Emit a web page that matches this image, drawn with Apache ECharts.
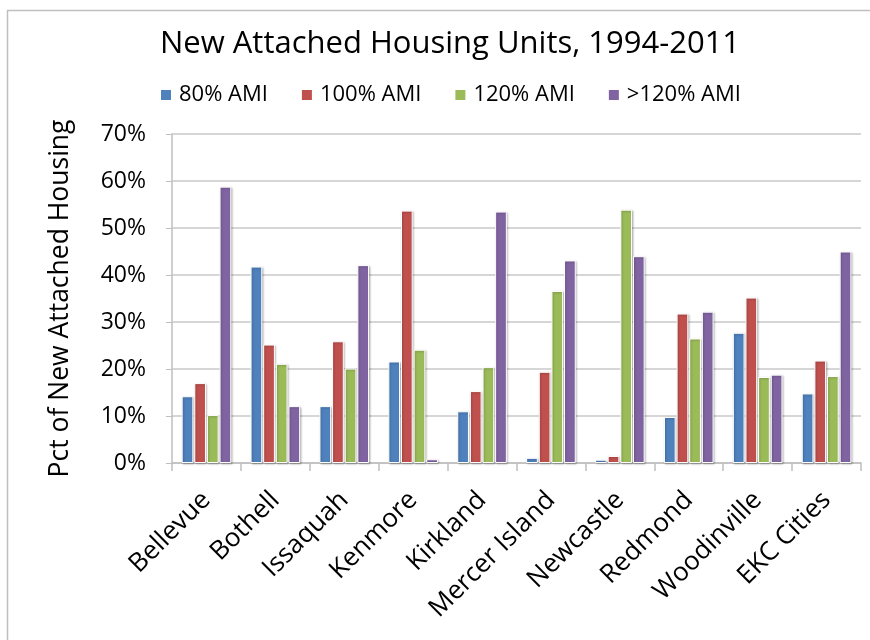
<!DOCTYPE html>
<html>
<head>
<meta charset="utf-8">
<script src="https://cdn.jsdelivr.net/npm/echarts@6/dist/echarts.min.js"></script>
<style>
  html, body { margin: 0; padding: 0; background: #fff; }
  #chart { width: 870px; height: 640px; }
</style>
</head>
<body>
<div id="chart"></div>
<script>
// data (percent of new attached housing)
const cities = ["Bellevue", "Bothell", "Issaquah", "Kenmore", "Kirkland",
  "Mercer Island", "Newcastle", "Redmond", "Woodinville", "EKC Cities"];
const seriesNames = ["80% AMI", "100% AMI", "120% AMI", ">120% AMI"];
const ami80 = [14.2, 41.8, 12.1, 21.6, 11.0, 1.1, 0.7, 9.8, 27.7, 14.8];
const ami100 = [17.0, 25.2, 25.9, 53.7, 15.3, 19.4, 1.5, 31.8, 35.2, 21.8];
const ami120 = [10.2, 21.1, 20.1, 24.1, 20.4, 36.6, 53.9, 26.5, 18.3, 18.5];
const amiOver120 = [58.8, 12.1, 42.1, 0.8, 53.5, 43.1, 44.0, 32.2, 18.8, 45.0];
const colors = ["#4F81BD", "#C0504D", "#9BBB59", "#8064A2"];

const chart = echarts.init(document.getElementById("chart"));
const font = "'Open Sans', 'Noto Sans', sans-serif";

const makeSeries = (name, values, i) => ({
  name: name,
  type: "bar",
  data: values,
  barGap: "8%",
  barCategoryGap: "28%",
  itemStyle: {
    color: colors[i],
    borderColor: "#fff",
    borderWidth: 1,
    shadowColor: "rgba(0,0,0,0.25)",
    shadowBlur: 2,
    shadowOffsetX: 1,
    shadowOffsetY: 1
  }
});

const option = {
  backgroundColor: "#fff",
  animation: false,
  textStyle: { fontFamily: font },
  title: {
    text: "New Attached Housing Units, 1994-2011",
    left: 445,
    textAlign: "center",
    top: 24,
    textStyle: { fontFamily: font, fontSize: 31, fontWeight: "normal", color: "#000" }
  },
  legend: {
    data: seriesNames,
    top: 79,
    left: 154,
    itemWidth: 12,
    itemHeight: 12,
    itemGap: 32,
    icon: "rect",
    textStyle: { fontFamily: font, fontSize: 22, color: "#000", padding: [0, 0, 0, 2] }
  },
  graphic: [
    {
      type: "polyline",
      shape: { points: [[7.5, 640], [7.5, 10.5], [870, 10.5]] },
      style: { fill: null, stroke: "#bfbfbf", lineWidth: 1.5 }
    }
  ],
  grid: { left: 172, right: 9, top: 134, bottom: 177 },
  xAxis: {
    type: "category",
    data: cities,
    axisLine: { lineStyle: { color: "#bfbfbf", width: 1.5 } },
    axisTick: { show: true, length: 8, lineStyle: { color: "#bfbfbf", width: 1.5 } },
    axisLabel: {
      rotate: 45,
      interval: 0,
      fontFamily: font,
      fontSize: 26,
      color: "#000",
      margin: 33
    }
  },
  yAxis: {
    type: "value",
    min: 0,
    max: 70,
    interval: 10,
    name: "Pct of New Attached Housing",
    nameLocation: "middle",
    nameGap: 98,
    nameTextStyle: { fontFamily: font, fontSize: 26.5, color: "#000" },
    axisLine: { show: true, lineStyle: { color: "#bfbfbf", width: 1.5 } },
    axisTick: { show: true, length: 6, lineStyle: { color: "#bfbfbf" } },
    splitLine: { lineStyle: { color: "#c8c8c8", width: 1.5 } },
    axisLabel: {
      formatter: v => v + "%",
      fontFamily: font,
      fontSize: 23,
      color: "#000",
      margin: 26
    }
  },
  series: [
    makeSeries(seriesNames[0], ami80, 0),
    makeSeries(seriesNames[1], ami100, 1),
    makeSeries(seriesNames[2], ami120, 2),
    makeSeries(seriesNames[3], amiOver120, 3)
  ]
};

chart.setOption(option);
window.addEventListener("resize", () => chart.resize());
</script>
</body>
</html>
